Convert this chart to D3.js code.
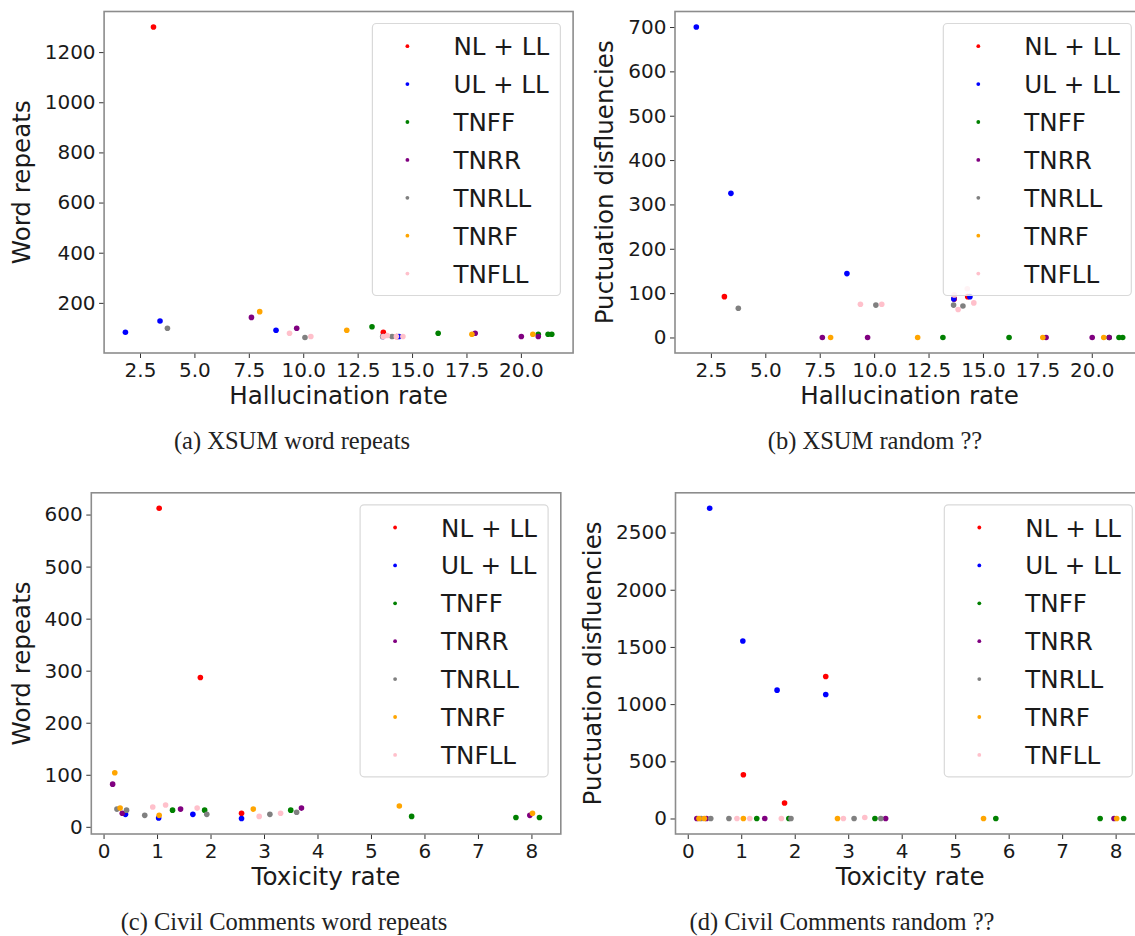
<!DOCTYPE html>
<html><head><meta charset="utf-8">
<script src="https://cdn.jsdelivr.net/npm/d3@7"></script>
<style>
html,body{margin:0;padding:0;background:#fff;}
svg{display:block;}
</style></head>
<body>
<svg id="chart" width="1135" height="936"></svg>
<script>
// ---- Data ----
const seriesNames = ["NL + LL", "UL + LL", "TNFF", "TNRR", "TNRLL", "TNRF", "TNFLL"];
const seriesColors = ["red", "blue", "green", "purple", "gray", "orange", "pink"];

// XSUM: hallucination rate per model, per series
const xsumRate = [
  [3.12, 13.68, 14.3],
  [1.83, 3.42, 8.75, 13.66, 14.4],
  [13.16, 16.2, 20.8, 21.25, 21.42],
  [7.62, 9.7, 17.9, 20.02, 20.8],
  [3.76, 10.08, 13.65, 14.08],
  [8.0, 12.0, 17.75, 20.55],
  [9.37, 10.35, 13.68, 13.86, 14.28, 14.58]
];
const xsumWordRepeats = [
  [1300, 83, 66],
  [83, 128, 91, 66, 66],
  [105, 79, 75, 75, 75],
  [142, 99, 79, 66, 66],
  [99, 62, 66, 66],
  [165, 91, 75, 75],
  [79, 66, 66, 70, 66, 66]
];
const xsumPunct = [
  [92, 87, 92],
  [700, 325, 144, 87, 92],
  [0, 0, 0, 0, 0],
  [0, 0, 0, 0, 0],
  [66, 73, 73, 71],
  [0, 0, 0, 0],
  [75, 75, 96, 63, 110, 78]
];

// Civil Comments: toxicity rate per model, per series
const civilRate = [
  [1.04, 1.81, 2.58],
  [0.41, 1.03, 1.67, 2.58],
  [1.29, 1.89, 3.50, 5.76, 7.71, 8.15],
  [0.17, 0.35, 1.44, 3.70, 7.97],
  [0.25, 0.43, 0.77, 1.93, 3.11, 3.61],
  [0.21, 0.31, 1.04, 2.80, 5.53, 8.02],
  [0.92, 1.16, 1.75, 2.91, 3.31]
];
const civilWordRepeats = [
  [612, 287, 26],
  [24, 17, 24, 16],
  [32, 32, 32, 20, 18, 18],
  [82, 26, 34, 36, 22],
  [34, 32, 22, 24, 24, 28],
  [104, 36, 22, 34, 40, 26],
  [38, 42, 36, 20, 26]
];
const civilPunct = [
  [383, 136, 1241],
  [2712, 1552, 1122, 1084],
  [0, 0, 0, 0, 0, 0],
  [0, 0, 0, 0, 0],
  [0, 0, 0, 0, 0, 0],
  [0, 0, 0, 0, 0, 0],
  [0, 0, 0, 0, 9]
];

// Tick values
const xsumXTicks = [2.5, 5.0, 7.5, 10.0, 12.5, 15.0, 17.5, 20.0];
const civilXTicks = [0, 1, 2, 3, 4, 5, 6, 7, 8];
const yTicksA = [200, 400, 600, 800, 1000, 1200];
const yTicksB = [0, 100, 200, 300, 400, 500, 600, 700];
const yTicksC = [0, 100, 200, 300, 400, 500, 600];
const yTicksD = [0, 500, 1000, 1500, 2000, 2500];

const captions = ["(a) XSUM word repeats", "(b) XSUM random ??", "(c) Civil Comments word repeats", "(d) Civil Comments random ??"];

// ---- Drawing ----
const svg = d3.select("#chart");
const FONT = "DejaVu Sans, sans-serif";

function padExtent(arrs) {
  const flat = arrs.flat();
  const [mn, mx] = d3.extent(flat);
  const m = (mx - mn) * 0.05;
  return [mn - m, mx + m];
}

function panel(cfg) {
  const {left, top, width, height, xs, ys, xTicks, yTicks, xFmt, xLabel, yLabel, yLabelX, caption, capX} = cfg;
  const g = svg.append("g");
  const x = d3.scaleLinear().domain(padExtent(xs)).range([left, left + width]);
  const y = d3.scaleLinear().domain(padExtent(ys)).range([top + height, top]);

  // points
  seriesNames.forEach((name, i) => {
    g.append("g").selectAll("circle")
      .data(xs[i].map((v, j) => [v, ys[i][j]]))
      .join("circle")
      .attr("cx", d => x(d[0]))
      .attr("cy", d => y(d[1]))
      .attr("r", 2.8)
      .attr("fill", seriesColors[i]);
  });

  // axes
  const xAxis = g.append("g").attr("transform", `translate(0,${top + height})`)
    .call(d3.axisBottom(x).tickValues(xTicks).tickFormat(xFmt).tickSize(5).tickPadding(4.5));
  const yAxis = g.append("g").attr("transform", `translate(${left},0)`)
    .call(d3.axisLeft(y).tickValues(yTicks).tickFormat(d3.format("d")).tickSize(5).tickPadding(3.5));
  [xAxis, yAxis].forEach(a => {
    a.select(".domain").remove();
    a.selectAll("line").attr("stroke", "#333").attr("stroke-width", 1);
    a.selectAll("text").attr("font-family", FONT).attr("font-size", 20).attr("fill", "#1a1a1a");
  });

  // frame
  g.append("rect").attr("x", left).attr("y", top).attr("width", width).attr("height", height)
    .attr("fill", "none").attr("stroke", "#8c8c8c").attr("stroke-width", 1.6);

  // axis labels
  g.append("text").attr("x", left + width / 2).attr("y", top + height + 51)
    .attr("text-anchor", "middle").attr("font-family", FONT).attr("font-size", 24.6)
    .attr("fill", "#1a1a1a").text(xLabel);
  g.append("text").attr("transform", `translate(${yLabelX},${top + height / 2}) rotate(-90)`)
    .attr("text-anchor", "middle").attr("font-family", FONT).attr("font-size", 24.6)
    .attr("fill", "#1a1a1a").text(yLabel);

  // legend
  const lw = 188, lh = 272;
  const lx = left + width - 12.7 - lw, ly = top + 12;
  const lg = g.append("g");
  lg.append("rect").attr("x", lx).attr("y", ly).attr("width", lw).attr("height", lh)
    .attr("rx", 4).attr("fill", "#fff").attr("fill-opacity", 0.8)
    .attr("stroke", "#d9d9d9").attr("stroke-width", 1.2);
  seriesNames.forEach((name, i) => {
    const ry = ly + 22.7 + i * 37.9;
    lg.append("circle").attr("cx", lx + 35).attr("cy", ry).attr("r", 1.9).attr("fill", seriesColors[i]);
    lg.append("text").attr("x", lx + 81).attr("y", ry + 9).attr("font-family", FONT)
      .attr("font-size", 24.6).attr("fill", "#1a1a1a").text(name);
  });

  // caption
  svg.append("text").attr("x", capX).attr("y", top + height + 96)
    .attr("text-anchor", "middle").attr("font-family", "Liberation Serif, Times New Roman, serif")
    .attr("font-size", 24.5).attr("fill", "#222").text(caption);
}

const fmt1 = d3.format(".1f");
const fmt0 = d3.format("d");

panel({left: 104.1, top: 11.5, width: 469, height: 341.5, xs: xsumRate, ys: xsumWordRepeats,
  xTicks: xsumXTicks, yTicks: yTicksA, xFmt: fmt1, xLabel: "Hallucination rate", yLabel: "Word repeats",
  yLabelX: 30, caption: captions[0], capX: 292});
panel({left: 675, top: 11.5, width: 469, height: 341.5, xs: xsumRate, ys: xsumPunct,
  xTicks: xsumXTicks, yTicks: yTicksB, xFmt: fmt1, xLabel: "Hallucination rate", yLabel: "Puctuation disfluencies",
  yLabelX: 613, caption: captions[1], capX: 875});
panel({left: 91.3, top: 492.8, width: 469.5, height: 341.2, xs: civilRate, ys: civilWordRepeats,
  xTicks: civilXTicks, yTicks: yTicksC, xFmt: fmt0, xLabel: "Toxicity rate", yLabel: "Word repeats",
  yLabelX: 30, caption: captions[2], capX: 284});
panel({left: 675.5, top: 492.8, width: 469.5, height: 341.2, xs: civilRate, ys: civilPunct,
  xTicks: civilXTicks, yTicks: yTicksD, xFmt: fmt0, xLabel: "Toxicity rate", yLabel: "Puctuation disfluencies",
  yLabelX: 601, caption: captions[3], capX: 842});
</script>
</body></html>
